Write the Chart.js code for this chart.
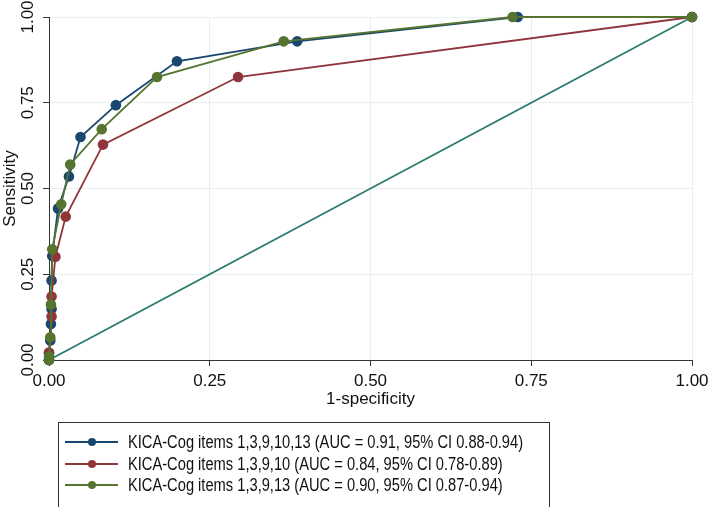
<!DOCTYPE html>
<html>
<head>
<meta charset="utf-8">
<script src="https://cdn.jsdelivr.net/npm/chart.js@4/dist/chart.umd.min.js"></script>
<style>
  html, body { margin: 0; padding: 0; background: #fff; overflow: hidden; }
  #wrap { position: relative; width: 709px; height: 507px; }
  #roc-chart { display: block; }
  #legend {
    position: absolute; left: 58px; top: 422px; width: 492px; height: 86px;
    border: 1px solid #333; box-sizing: border-box;
    font-family: "Liberation Sans", Arial, sans-serif;
    font-size: 18px; color: #111;
  }
  .row { position: absolute; left: 0; height: 22px; line-height: 22px; white-space: nowrap; }
  .sym { position: absolute; left: 6px; top: 10px; width: 53px; height: 2px; }
  .dot { position: absolute; left: 23px; top: -3px; width: 8px; height: 8px; border-radius: 50%; }
  .txt { position: absolute; left: 69px; top: 0; transform: scaleX(0.815); transform-origin: 0 50%; }
</style>
</head>
<body>
<div id="wrap">
  <canvas id="roc-chart" width="709" height="507"></canvas>
  <div id="legend"></div>
</div>
<script>
// ROC DATA (1-specificity / sensitivity)
var fprBlue = [0, 0, 0.002, 0.003, 0.004, 0.004, 0.005, 0.014, 0.031, 0.049, 0.104, 0.199, 0.386, 0.729, 1];
var tprBlue = [0, 0.02, 0.057, 0.105, 0.149, 0.232, 0.303, 0.442, 0.535, 0.650, 0.743, 0.871, 0.929, 1, 1];

var fprRed = [0, 0, 0.004, 0.004, 0.010, 0.026, 0.084, 0.294, 1];
var tprRed = [0, 0.022, 0.127, 0.185, 0.301, 0.418, 0.628, 0.825, 1];

var fprGreen = [0, 0, 0.002, 0.003, 0.005, 0.019, 0.033, 0.082, 0.168, 0.365, 0.721, 1];
var tprGreen = [0, 0.01, 0.066, 0.162, 0.323, 0.454, 0.570, 0.673, 0.825, 0.929, 1, 1];

var refX = [0, 1];
var refY = [0, 1];

var seriesNames = [
    "KICA-Cog items 1,3,9,10,13 (AUC = 0.91, 95% CI 0.88-0.94)",
    "KICA-Cog items 1,3,9,10 (AUC = 0.84, 95% CI 0.78-0.89)",
    "KICA-Cog items 1,3,9,13 (AUC = 0.90, 95% CI 0.87-0.94)"
];
var seriesColors = ["#1a476f", "#90353b", "#55752f"];
var refColor = "#2b7a6f";
var tickValues = [0, 0.25, 0.5, 0.75, 1];

function toPoints(xs, ys) {
    var pts = [];
    for (var i = 0; i < xs.length; i++) {
        pts.push({ x: xs[i], y: ys[i] });
    }
    return pts;
}

function rocDataset(name, xs, ys, color, order) {
    return {
        label: name,
        data: toPoints(xs, ys),
        borderColor: color,
        backgroundColor: color,
        borderWidth: 1.8,
        pointRadius: 5.3,
        pointHoverRadius: 5.3,
        pointBorderWidth: 0,
        showLine: true,
        clip: false,
        order: order
    };
}

var tickFont = { family: "'Liberation Sans', Arial, sans-serif", size: 17 };
var titleFont = { family: "'Liberation Sans', Arial, sans-serif", size: 17 };

var ctx = document.getElementById('roc-chart').getContext('2d');
var rocChart = new Chart(ctx, {
    type: "scatter",
    data: {
        datasets: [
            rocDataset(seriesNames[2], fprGreen, tprGreen, seriesColors[2], 1),
            rocDataset(seriesNames[1], fprRed, tprRed, seriesColors[1], 2),
            rocDataset(seriesNames[0], fprBlue, tprBlue, seriesColors[0], 3),
            {
                label: "reference",
                data: toPoints(refX, refY),
                borderColor: refColor,
                borderWidth: 1.8,
                pointRadius: 0,
                showLine: true,
                clip: false,
                order: 4
            }
        ]
    },
    options: {
        responsive: false,
        animation: false,
        layout: { padding: { top: 17, right: 17, bottom: 97, left: 0 } },
        plugins: {
            legend: { display: false },
            tooltip: { enabled: false }
        },
        scales: {
            x: {
                type: "linear",
                min: 0, max: 1,
                afterBuildTicks: function (scale) {
                    scale.ticks = tickValues.map(function (v) { return { value: v }; });
                },
                afterFit: function (scale) {
                    scale.height = 50;
                    scale.paddingLeft = 0;
                    scale.paddingRight = 0;
                },
                ticks: {
                    color: "#111", font: tickFont, padding: 5, maxRotation: 0,
                    callback: function (v) { return v.toFixed(2); }
                },
                grid: { color: "#e6f0f1", lineWidth: 1, tickColor: "#333", tickLength: 6 },
                border: { color: "#333", width: 1 },
                title: { display: true, text: "1-specificity", color: "#111", font: titleFont, padding: { top: 0, bottom: 0 } }
            },
            y: {
                type: "linear",
                min: 0, max: 1,
                afterBuildTicks: function (scale) {
                    scale.ticks = tickValues.map(function (v) { return { value: v }; });
                },
                afterFit: function (scale) {
                    scale.width = 49;
                    scale.paddingTop = 0;
                    scale.paddingBottom = 0;
                },
                ticks: {
                    color: "#111", font: tickFont, padding: -2, minRotation: 90, maxRotation: 90,
                    crossAlign: "center",
                    callback: function (v) { return v.toFixed(2); }
                },
                grid: { color: "#e6f0f1", lineWidth: 1, tickColor: "#333", tickLength: 6 },
                border: { color: "#333", width: 1 },
                title: { display: true, text: "Sensitivity", color: "#111", font: titleFont, padding: { top: 0, bottom: 0 } }
            }
        }
    }
});

// LEGEND BOX
var legendEl = document.getElementById('legend');
for (var i = 0; i < seriesNames.length; i++) {
    var row = document.createElement('div');
    row.className = 'row';
    row.style.top = (8 + i * 21.7) + 'px';
    row.style.width = '100%';
    var sym = document.createElement('div');
    sym.className = 'sym';
    sym.style.background = seriesColors[i];
    var dot = document.createElement('div');
    dot.className = 'dot';
    dot.style.background = seriesColors[i];
    sym.appendChild(dot);
    var txt = document.createElement('span');
    txt.className = 'txt';
    txt.textContent = seriesNames[i];
    row.appendChild(sym);
    row.appendChild(txt);
    legendEl.appendChild(row);
}
</script>
</body>
</html>
